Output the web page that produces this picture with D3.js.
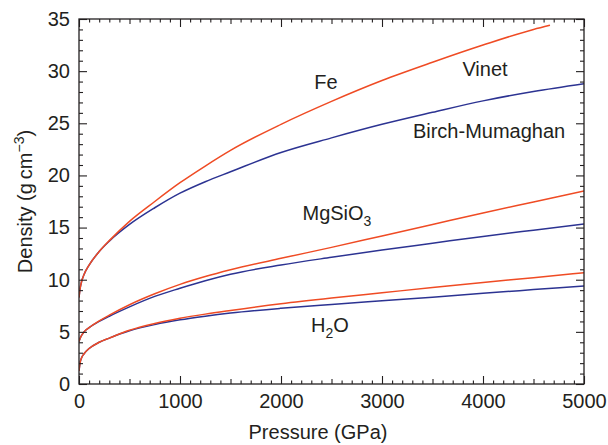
<!DOCTYPE html>
<html>
<head>
<meta charset="utf-8">
<script src="https://cdn.jsdelivr.net/npm/d3@7"></script>
<style>
  html, body { margin: 0; padding: 0; background: #fff; }
  svg { display: block; font-family: "Liberation Sans", Arial, Helvetica, sans-serif; }
</style>
</head>
<body>
<svg id="chart" width="608" height="445"></svg>
<script>
// ---- data ----
const pressure = [0, 10, 25, 50, 100, 200, 300, 500, 750, 1000, 1250, 1500, 2000, 2500, 3000, 3500, 4000, 4500, 5000];

const feVinet   = [8.3, 9.1, 9.8, 10.5, 11.4, 12.7, 13.75, 15.6, 17.5, 19.3, 20.9, 22.4, 24.9, 27.1, 29.1, 30.85, 32.5, 34.0, null];
const feVinetEnd = [4663, 34.4];
const feBM      = [8.3, 9.1, 9.8, 10.5, 11.4, 12.7, 13.7, 15.3, 16.9, 18.3, 19.4, 20.35, 22.2, 23.6, 24.9, 26.05, 27.15, 28.05, 28.8];

const mgVinet   = [4.07, 4.35, 4.65, 5.0, 5.4, 6.05, 6.6, 7.6, 8.65, 9.55, 10.3, 10.95, 12.05, 13.1, 14.2, 15.3, 16.4, 17.45, 18.5];
const mgBM      = [4.07, 4.35, 4.65, 5.0, 5.4, 6.0, 6.5, 7.4, 8.4, 9.18, 9.9, 10.52, 11.41, 12.15, 12.85, 13.5, 14.15, 14.75, 15.34];

const h2oVinet  = [1.25, 2.0, 2.5, 2.9, 3.4, 4.0, 4.4, 5.15, 5.8, 6.3, 6.7, 7.05, 7.7, 8.25, 8.75, 9.25, 9.73, 10.2, 10.68];
const h2oBM     = [1.25, 2.0, 2.5, 2.9, 3.4, 4.0, 4.4, 5.1, 5.7, 6.15, 6.5, 6.8, 7.26, 7.63, 7.98, 8.33, 8.7, 9.05, 9.4];

const xTickValues = [0, 1000, 2000, 3000, 4000, 5000];
const yTickValues = [0, 5, 10, 15, 20, 25, 30, 35];

const labels = [
  { text: "Fe", p: 2446, rho: 28.3 },
  { text: "Vinet", p: 4020, rho: 29.5 },
  { text: "Birch-Mumaghan", p: 4060, rho: 23.6 }
];

// ---- layout ----
const svg = d3.select("#chart");
const margin = { left: 79, top: 19, right: 24, bottom: 61 };
const W = 608, H = 445;
const x = d3.scaleLinear().domain([0, 5000]).range([margin.left, W - margin.right]);
const y = d3.scaleLinear().domain([0, 35]).range([H - margin.bottom, margin.top]);

const RED = "#ef4b24", BLUE = "#2c3392", AX = "#231f20";

function series(vals, extra) {
  const pts = [];
  pressure.forEach((p, i) => { if (vals[i] != null) pts.push([p, vals[i]]); });
  if (extra) pts.push(extra);
  return pts;
}

const line = d3.line().x(d => x(d[0])).y(d => y(d[1])).curve(d3.curveMonotoneX);

const curves = [
  { d: series(feBM), c: BLUE },
  { d: series(mgBM), c: BLUE },
  { d: series(h2oBM), c: BLUE },
  { d: series(feVinet, feVinetEnd), c: RED },
  { d: series(mgVinet), c: RED },
  { d: series(h2oVinet), c: RED }
];

svg.append("defs").append("clipPath").attr("id", "clip")
  .append("rect").attr("x", x(0)).attr("y", y(35)).attr("width", x(5000) - x(0)).attr("height", y(0) - y(35));

svg.append("g").attr("clip-path", "url(#clip)")
  .selectAll("path").data(curves).join("path")
  .attr("d", d => line(d.d))
  .attr("fill", "none")
  .attr("stroke", d => d.c)
  .attr("stroke-width", 1.5);

// ---- axes (ticks inward on all four sides) ----
function styleAxis(g) {
  g.select(".domain").remove();
  g.selectAll("line").attr("stroke", AX).attr("stroke-width", 1.1);
}
const xMinor = d3.range(0, 5001, 100).filter(v => v % 500 !== 0);
const xMid = d3.range(500, 5000, 1000);
const yMinor = d3.range(0, 36, 1).filter(v => v % 5 !== 0);

// bottom
svg.append("g").attr("transform", `translate(0,${y(0)})`)
  .call(d3.axisBottom(x).tickValues(xTickValues).tickSize(-8).tickPadding(10).tickFormat(d3.format("d")))
  .call(styleAxis)
  .call(g => g.selectAll("text").attr("font-size", 20).attr("fill", AX)
        .attr("font-family", "Liberation Sans, Arial, sans-serif"));
svg.append("g").attr("transform", `translate(0,${y(0)})`)
  .call(d3.axisBottom(x).tickValues(xMinor).tickSize(-3.5).tickFormat(""))
  .call(styleAxis);
svg.append("g").attr("transform", `translate(0,${y(0)})`)
  .call(d3.axisBottom(x).tickValues(xMid).tickSize(-5).tickFormat(""))
  .call(styleAxis);
// top
svg.append("g").attr("transform", `translate(0,${y(35)})`)
  .call(d3.axisTop(x).tickValues(xTickValues).tickSize(-8).tickFormat(""))
  .call(styleAxis);
svg.append("g").attr("transform", `translate(0,${y(35)})`)
  .call(d3.axisTop(x).tickValues(xMinor).tickSize(-3.5).tickFormat(""))
  .call(styleAxis);
svg.append("g").attr("transform", `translate(0,${y(35)})`)
  .call(d3.axisTop(x).tickValues(xMid).tickSize(-5).tickFormat(""))
  .call(styleAxis);
// left
svg.append("g").attr("transform", `translate(${x(0)},0)`)
  .call(d3.axisLeft(y).tickValues(yTickValues).tickSize(-8).tickPadding(9).tickFormat(d3.format("d")))
  .call(styleAxis)
  .call(g => g.selectAll("text").attr("font-size", 20).attr("fill", AX)
        .attr("font-family", "Liberation Sans, Arial, sans-serif"));
svg.append("g").attr("transform", `translate(${x(0)},0)`)
  .call(d3.axisLeft(y).tickValues(yMinor).tickSize(-4).tickFormat(""))
  .call(styleAxis);
// right
svg.append("g").attr("transform", `translate(${x(5000)},0)`)
  .call(d3.axisRight(y).tickValues(yTickValues).tickSize(-8).tickFormat(""))
  .call(styleAxis);
svg.append("g").attr("transform", `translate(${x(5000)},0)`)
  .call(d3.axisRight(y).tickValues(yMinor).tickSize(-4).tickFormat(""))
  .call(styleAxis);

// frame
svg.append("rect")
  .attr("x", x(0)).attr("y", y(35))
  .attr("width", x(5000) - x(0)).attr("height", y(0) - y(35))
  .attr("fill", "none").attr("stroke", AX).attr("stroke-width", 1.3);

// ---- axis titles ----
svg.append("text")
  .attr("x", 318).attr("y", 439)
  .attr("text-anchor", "middle").attr("font-size", 20).attr("fill", AX)
  .text("Pressure (GPa)");

const yt = svg.append("text")
  .attr("transform", `translate(32,${(y(0) + y(35)) / 2}) rotate(-90)`)
  .attr("text-anchor", "middle").attr("font-size", 20).attr("fill", AX);
yt.append("tspan").text("Density (g\u2009cm");
yt.append("tspan").attr("dy", -8).attr("font-size", 14).text("\u22123");
yt.append("tspan").attr("dy", 8).text(")");

// ---- annotations ----
svg.append("g").selectAll("text").data(labels).join("text")
  .attr("x", d => x(d.p)).attr("y", d => y(d.rho))
  .attr("text-anchor", "middle").attr("font-size", 20).attr("fill", AX)
  .text(d => d.text);

const mg = svg.append("text").attr("x", x(2554)).attr("y", y(15.7))
  .attr("text-anchor", "middle").attr("font-size", 20).attr("fill", AX);
mg.append("tspan").text("MgSiO");
mg.append("tspan").attr("dy", 6).attr("font-size", 14).text("3");

const h2o = svg.append("text").attr("x", x(2485)).attr("y", y(5.0))
  .attr("text-anchor", "middle").attr("font-size", 20).attr("fill", AX);
h2o.append("tspan").text("H");
h2o.append("tspan").attr("dy", 6).attr("font-size", 14).text("2");
h2o.append("tspan").attr("dy", -6).text("O");
</script>
</body>
</html>
